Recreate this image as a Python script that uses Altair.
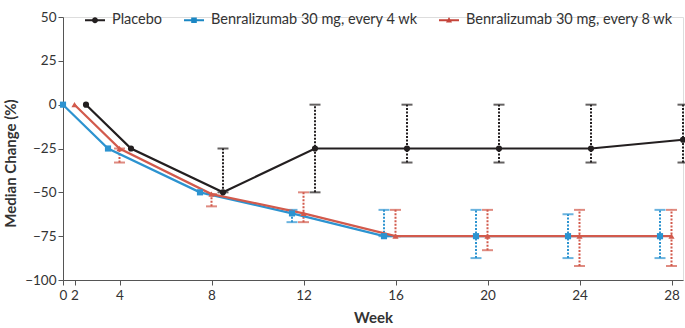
import altair as alt
import pandas as pd

series_names = ["Placebo", "Benralizumab 30 mg, every 4 wk", "Benralizumab 30 mg, every 8 wk"]
weeks = [0, 4, 8, 12, 16, 20, 24, 28]

placebo_med = [0, -25, -50, -25, -25, -25, -25, -20]
placebo_lo = [0, -25, -50, -50, -33, -33, -33, -33]
placebo_hi = [0, -25, -25, 0, 0, 0, 0, 0]

q4_med = [0, -25, -50, -62, -75, -75, -75, -75]
q4_lo = [0, -25, -50, -67, -75, -87.5, -87.5, -87.5]
q4_hi = [0, -25, -50, -60, -60, -60, -62.5, -60]

q8_med = [0, -25, -51, -62, -75, -75, -75, -75]
q8_lo = [0, -33, -58, -67, -75, -83, -92, -92]
q8_hi = [0, -25, -51, -50, -60, -60, -60, -60]

x_tick_values = [-0.5, 0, 4, 8, 12, 16, 20, 24, 28]
y_tick_values = [-100, -75, -50, -25, 0, 25, 50]

colors = ["#231f20", "#1b87c4", "#c5443a"]
err_colors = ["#231f20", "#2c93d0", "#d25a4c"]

rows = []
for name, med, lo, hi in [
    (series_names[0], placebo_med, placebo_lo, placebo_hi),
    (series_names[1], q4_med, q4_lo, q4_hi),
    (series_names[2], q8_med, q8_lo, q8_hi),
]:
    for w, m, l, h in zip(weeks, med, lo, hi):
        rows.append({"series": name, "week": w, "median": m, "lo": l, "hi": h})
df = pd.DataFrame(rows)

dodge_expr = ("datum.series == 'Placebo' ? 0.5 : "
              "(indexof(datum.series, '4 wk') >= 0 ? -0.5 : 0)")

xscale = alt.Scale(domain=[-0.5, 0.5, 3.5, 28.5], range=[0, 23, 45, 620], nice=False, zero=False)
yscale = alt.Scale(domain=[-100, 50], nice=False, zero=False)

FONT = "Lato"

x_enc = alt.X("pos:Q", scale=xscale, title="Week",
              axis=alt.Axis(values=x_tick_values,
                            labelExpr="datum.value < -0.1 ? '0' : (datum.value == 0 ? '2' : datum.label)",
                            grid=False, tickSize=5, labelFontSize=13.5, labelColor="#333",
                            labelOverlap=False, labelBound=False, labelFlush=False,
                            domainColor="#555", tickColor="#555", labelPadding=3,
                            titleFontSize=15, titleFontWeight="bold", titleColor="#333",
                            titlePadding=9, labelFont=FONT, titleFont=FONT))
y_enc = alt.Y("median:Q", scale=yscale, title="Median Change (%)",
              axis=alt.Axis(values=y_tick_values, grid=False, tickSize=5,
                            labelExpr="replace(datum.label, '-', '\u2212')",
                            labelOverlap=False,
                            labelFontSize=13.5, labelColor="#333", domainColor="#555",
                            tickColor="#555", labelPadding=2, titleFontSize=15,
                            titleFontWeight="bold", titleColor="#333", titlePadding=6,
                            titleY=146, labelFont=FONT, titleFont=FONT))

color_scale = alt.Scale(domain=series_names, range=colors)
err_color_scale = alt.Scale(domain=series_names, range=err_colors)

base = alt.Chart(df).transform_calculate(pos="datum.week + (" + dodge_expr + ")")

err = base.transform_filter("datum.lo != datum.hi")

err_rule = err.mark_rule(strokeDash=[2, 1.5], strokeWidth=2).encode(
    x=x_enc, y=alt.Y("lo:Q", scale=yscale), y2="hi:Q",
    color=alt.Color("series:N", scale=err_color_scale, legend=None))
cap_lo = err.mark_tick(orient="horizontal", size=11, thickness=2).encode(
    x=x_enc, y=alt.Y("lo:Q", scale=yscale),
    color=alt.Color("series:N", scale=err_color_scale, legend=None))
cap_hi = err.mark_tick(orient="horizontal", size=11, thickness=2).encode(
    x=x_enc, y=alt.Y("hi:Q", scale=yscale),
    color=alt.Color("series:N", scale=err_color_scale, legend=None))

layers = [err_rule, cap_lo, cap_hi]
for name in [series_names[0], series_names[1], series_names[2]]:
    layers.append(base.transform_filter(alt.datum.series == name).mark_line(strokeWidth=2.2).encode(
        x=x_enc, y=y_enc, color=alt.Color("series:N", scale=color_scale, legend=None)))

shape_scale = alt.Scale(domain=series_names, range=["circle", "square", "triangle-up"])
points = base.mark_point(filled=True, size=38, opacity=1).encode(
    x=x_enc, y=y_enc,
    color=alt.Color("series:N", scale=color_scale, legend=None),
    shape=alt.Shape("series:N", scale=shape_scale, legend=None))
layers.append(points)

legend_paths = [
    "M-1,-0.1H1V0.1H-1Z M-0.3,0A0.3,0.3,0,1,1,0.3,0A0.3,0.3,0,1,1,-0.3,0Z",
    "M-1,-0.1H1V0.1H-1Z M-0.28,-0.28H0.28V0.28H-0.28Z",
    "M-1,-0.1H1V0.1H-1Z M0,-0.32L0.3,0.22H-0.3Z",
]
leg = alt.Legend(title=None, orient="none", legendX=22, legendY=-7,
                 direction="horizontal", labelFontSize=14.5, symbolOpacity=1,
                 labelFont=FONT, labelColor="#333", symbolSize=400, labelLimit=400,
                 symbolStrokeWidth=0, columnPadding=21, labelOffset=7)
legend_layer = base.mark_point(filled=True, size=400, opacity=0, strokeWidth=0).encode(
    x=x_enc, y=y_enc,
    fill=alt.Fill("series:N", scale=alt.Scale(domain=series_names, range=colors), legend=leg),
    shape=alt.Shape("series:N", scale=alt.Scale(domain=series_names, range=legend_paths), legend=leg))
layers.append(legend_layer)

chart = alt.layer(*layers).resolve_scale(shape="independent", fill="independent").properties(
    width=620, height=263,
    autosize=alt.AutoSizeParams(type="none"),
    padding={"left": 63, "top": 17, "right": 2, "bottom": 48},
).configure_view(stroke=None).configure(font=FONT)

chart.save("out.html", embed_options={"renderer": "svg", "actions": False})
